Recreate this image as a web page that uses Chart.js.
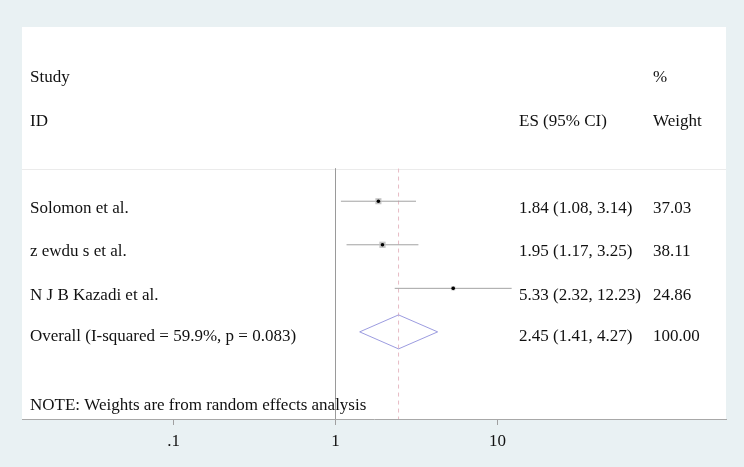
<!DOCTYPE html>
<html>
<head>
<meta charset="utf-8">
<script src="https://cdn.jsdelivr.net/npm/chart.js@4"></script>
<style>
  body { margin: 0; background: #e9f1f3; }
  canvas { display: block; }
</style>
</head>
<body>
<canvas id="forest" width="744" height="467"></canvas>
<script>
  // study data
  const studies = ['Solomon et al.', 'z ewdu s et al.', 'N J B Kazadi et al.'];
  const es = [1.84, 1.95, 5.33];
  const lower = [1.08, 1.17, 2.32];
  const upper = [3.14, 3.25, 12.23];
  const weights = [37.03, 38.11, 24.86];

  const overallLabel = 'Overall (I-squared = 59.9%, p = 0.083)';
  const overallEs = 2.45;
  const overallLower = 1.41;
  const overallUpper = 4.27;
  const overallWeight = 100.00;

  const tickValues = [0.1, 1, 10];
  const tickLabels = ['.1', '1', '10'];

  const rows = studies.map((s, i) => 4 + i);
  const overallRow = 4 + studies.length;
  const headerLineRow = 3.25;

  const fontFamily = '"Liberation Serif", "Times New Roman", serif';

  function fmt(v) { return v.toFixed(2); }

  const ciLines = studies.map((s, i) => ({
    type: 'scatter',
    order: 3,
    data: [{ x: lower[i], y: rows[i] }, { x: upper[i], y: rows[i] }],
    showLine: true,
    borderColor: '#a3a3a3',
    borderWidth: 1,
    pointRadius: 0
  }));

  const diamondH = 0.39;
  const datasets = [
    // null line at 1
    {
      type: 'scatter',
      order: 5,
      data: [{ x: 1, y: headerLineRow }, { x: 1, y: 9 }],
      showLine: true, borderColor: '#9a9a9a', borderWidth: 1, pointRadius: 0
    },
    // overall dashed line
    {
      type: 'scatter',
      order: 4,
      data: [{ x: overallEs, y: headerLineRow }, { x: overallEs, y: 9 }],
      showLine: true, borderColor: '#e8bcc5', borderWidth: 1, borderDash: [4, 4], pointRadius: 0
    },
    ...ciLines,
    // weight boxes
    {
      type: 'scatter',
      order: 1,
      data: es.map((v, i) => ({ x: v, y: rows[i] })),
      pointStyle: 'rect',
      pointRadius: weights.map(w => w / 38 * 4.4),
      backgroundColor: '#c4c4c4', borderWidth: 0
    },
    // point estimates
    {
      type: 'scatter',
      order: 0,
      data: es.map((v, i) => ({ x: v, y: rows[i] })),
      pointStyle: 'circle', pointRadius: 1.8,
      backgroundColor: '#000', borderWidth: 0
    },
    // overall diamond
    {
      type: 'scatter',
      order: 2,
      data: [
        { x: overallLower, y: overallRow },
        { x: overallEs, y: overallRow - diamondH },
        { x: overallUpper, y: overallRow },
        { x: overallEs, y: overallRow + diamondH },
        { x: overallLower, y: overallRow }
      ],
      showLine: true, borderColor: '#9c9ce0', borderWidth: 1, pointRadius: 0, fill: false
    }
  ];

  const panelPlugin = {
    id: 'panel',
    beforeDraw(chart) {
      const { ctx, chartArea: a } = chart;
      ctx.save();
      ctx.fillStyle = '#e9f1f3';
      ctx.fillRect(0, 0, chart.width, chart.height);
      ctx.fillStyle = '#ffffff';
      ctx.fillRect(a.left, a.top, a.right - a.left, a.bottom - a.top);
      // header separator
      const yy = Math.round(chart.scales.y.getPixelForValue(headerLineRow)) + 0.5;
      ctx.strokeStyle = '#ebebeb';
      ctx.lineWidth = 1;
      ctx.beginPath();
      ctx.moveTo(a.left, yy);
      ctx.lineTo(a.right, yy);
      ctx.stroke();
      ctx.restore();
    },
    afterDraw(chart) {
      const { ctx } = chart;
      const y = chart.scales.y;
      const colStudy = 30, colEs = 519, colW = 653;
      ctx.save();
      ctx.fillStyle = '#111';
      ctx.font = '17px ' + fontFamily;
      ctx.textBaseline = 'middle';
      ctx.textAlign = 'left';
      ctx.fillText('Study', colStudy, y.getPixelForValue(1.17));
      ctx.fillText('%', colW, y.getPixelForValue(1.17));
      ctx.fillText('ID', colStudy, y.getPixelForValue(2.18));
      ctx.fillText('ES (95% CI)', colEs, y.getPixelForValue(2.18));
      ctx.fillText('Weight', colW, y.getPixelForValue(2.18));
      studies.forEach((s, i) => {
        const py = y.getPixelForValue(rows[i]) + 7;
        ctx.fillText(s, colStudy, py);
        ctx.fillText(fmt(es[i]) + ' (' + fmt(lower[i]) + ', ' + fmt(upper[i]) + ')', colEs, py);
        ctx.fillText(fmt(weights[i]), colW, py);
      });
      const oy = y.getPixelForValue(overallRow) + 5;
      ctx.fillText(overallLabel, colStudy, oy);
      ctx.fillText(fmt(overallEs) + ' (' + fmt(overallLower) + ', ' + fmt(overallUpper) + ')', colEs, oy);
      ctx.fillText(fmt(overallWeight), colW, oy);
      ctx.fillText('NOTE: Weights are from random effects analysis', colStudy, y.getPixelForValue(8.68));
      ctx.restore();
    }
  };

  // x = 1 sits at 335.5px, one decade = 162px, panel spans 22..726
  const decade = 162;
  const xMin = Math.pow(10, -(335.5 - 22) / decade);
  const xMax = Math.pow(10, (726 - 335.5) / decade);

  new Chart(document.getElementById('forest'), {
    type: 'scatter',
    data: { datasets },
    options: {
      responsive: false,
      animation: false,
      devicePixelRatio: 1,
      layout: { padding: { left: 22, right: 18, top: 27, bottom: 0 } },
      plugins: { legend: { display: false }, tooltip: { enabled: false } },
      scales: {
        x: {
          type: 'logarithmic',
          min: xMin,
          max: xMax,
          afterBuildTicks(scale) {
            scale.ticks = tickValues.map(v => ({ value: v }));
          },
          afterFit(scale) { scale.height = 48; },
          ticks: {
            autoSkip: false,
            maxRotation: 0,
            padding: 6,
            color: '#111',
            font: { family: fontFamily, size: 17 },
            callback: (v) => tickLabels[tickValues.indexOf(v)] ?? ''
          },
          grid: { drawOnChartArea: false, drawTicks: true, tickLength: 6, color: '#a0a0a0' },
          border: { display: true, color: '#a8a8a8', width: 1 }
        },
        y: {
          display: false,
          reverse: true,
          min: 0,
          max: 9
        }
      }
    },
    plugins: [panelPlugin]
  });
</script>
</body>
</html>
